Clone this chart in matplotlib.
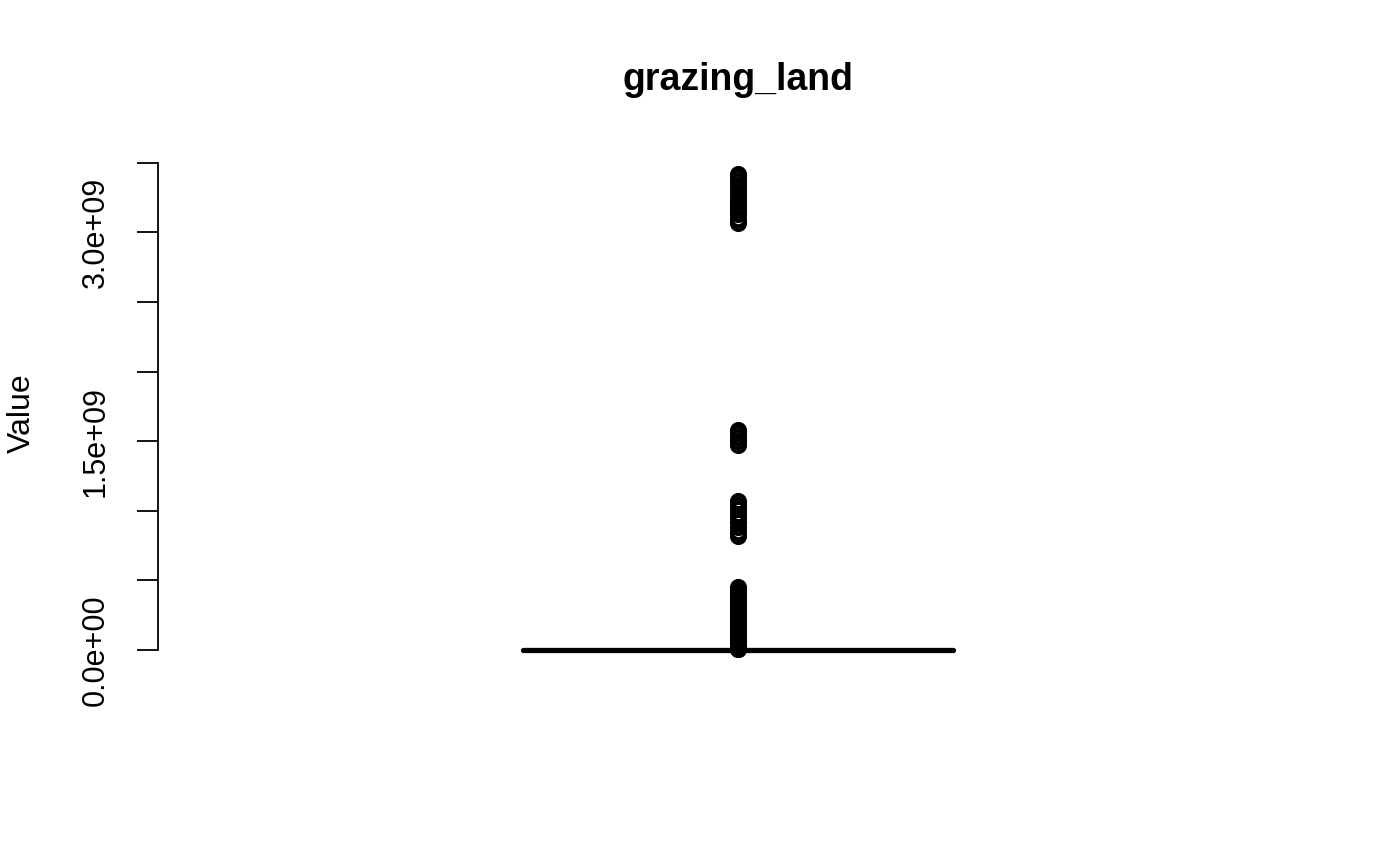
import matplotlib
matplotlib.use("Agg")
import matplotlib.pyplot as plt
import numpy as np

plt.rcParams["font.family"] = ["Liberation Sans", "DejaVu Sans"]

TITLE = "grazing_land"
YLABEL = "Value"

# bulk of the data sits at zero (box, median and whiskers collapse there)
N_ZEROS = 400
# outliers (units of 1e9)
LOW_CLUSTER = [0.005, 0.01, 0.02, 0.03, 0.05, 0.07, 0.09, 0.11, 0.13, 0.15, 0.17,
               0.19, 0.21, 0.23, 0.25, 0.27, 0.29, 0.31, 0.33, 0.35, 0.37, 0.39,
               0.41, 0.43, 0.45]
MID_CLUSTER = [0.82, 0.85, 0.88, 0.92, 0.95, 0.98, 1.01, 1.04, 1.07]
UPPER_MID_CLUSTER = [1.47, 1.50, 1.53, 1.56, 1.58]
TOP_CLUSTER = [3.07, 3.10, 3.13, 3.16, 3.19, 3.22, 3.25, 3.28, 3.31, 3.34, 3.37,
               3.40, 3.42]

Y_TICKS = [0.0, 0.5, 1.0, 1.5, 2.0, 2.5, 3.0, 3.5]
Y_TICK_LABELS = ["0.0e+00", "", "", "1.5e+09", "", "", "3.0e+09", ""]

values = np.array([0.0] * N_ZEROS + LOW_CLUSTER + MID_CLUSTER
                  + UPPER_MID_CLUSTER + TOP_CLUSTER) * 1e9

fig = plt.figure(figsize=(14, 8.65), dpi=100)
ax = fig.add_axes([0.1129, 0.2266, 0.8285, 0.5942])

ax.boxplot(
    values, positions=[1], widths=0.4, whis=1.5,
    boxprops=dict(color="black", linewidth=1.5),
    medianprops=dict(color="black", linewidth=3.8, solid_capstyle="round"),
    whiskerprops=dict(color="black", linewidth=1.5, linestyle="--"),
    capprops=dict(color="black", linewidth=1.5),
    flierprops=dict(marker="o", markerfacecolor="none", markeredgecolor="black",
                    markersize=9.5, markeredgewidth=2.8),
)

ymax = values.max()
ax.set_xlim(0.46, 1.54)
ax.set_ylim(-0.04 * ymax, 1.04 * ymax)

for side in ["top", "right", "bottom"]:
    ax.spines[side].set_visible(False)
ax.spines["left"].set_bounds(0, 3.5e9)
ax.spines["left"].set_linewidth(1.3)

ax.set_xticks([])
ax.set_yticks([t * 1e9 for t in Y_TICKS])
ax.set_yticklabels(Y_TICK_LABELS, rotation=90, va="center", fontsize=22)
ax.tick_params(axis="y", length=15, width=1.3, pad=19)

fig.text(22 / 1400, 1 - 413 / 865, YLABEL, rotation=90, ha="center", va="center",
         fontsize=23)
fig.text(0.527, 1 - 80 / 865, TITLE, ha="center", va="center",
         fontsize=27, fontweight="bold")

fig.savefig("out.png", dpi=100)
